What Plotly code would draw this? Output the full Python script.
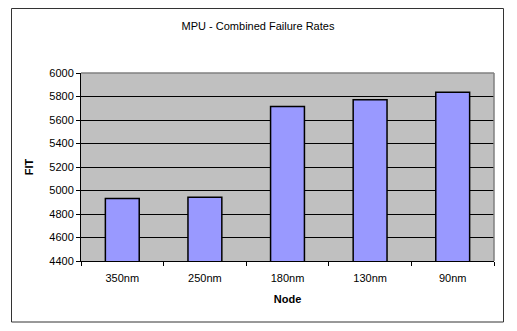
import plotly.graph_objects as go

categories = ["350nm", "250nm", "180nm", "130nm", "90nm"]
fit_values = [4932, 4942, 5715, 5772, 5837]
y_ticks = [4400, 4600, 4800, 5000, 5200, 5400, 5600, 5800, 6000]

# page body has an 8px margin, so work in figure coordinates offset by 8
OFF = 8
W, H = 517 - OFF, 331 - OFF
L, R, T, B = 81 - OFF, 23, 73 - OFF, 70
pw, ph = W - L - R, H - T - B

def px(x):
    return (x - OFF - L) / pw

def py(y):
    return (H - B - (y - OFF)) / ph

fig = go.Figure()
fig.add_trace(go.Bar(
    x=categories, y=fit_values,
    marker=dict(color="#9999FF", line=dict(color="black", width=1.5)),
    width=0.41,
))

fig.update_layout(
    width=W, height=H,
    margin=dict(l=L, r=R, t=T, b=B, autoexpand=False),
    paper_bgcolor="white",
    plot_bgcolor="#C0C0C0",
    showlegend=False,
    font=dict(family="Arial, Liberation Sans, sans-serif", size=11, color="black"),
    title=dict(text="MPU - Combined Failure Rates", x=px(258), xref="paper",
               xanchor="center", y=1 - (26 - OFF) / H, yanchor="middle",
               font=dict(size=11)),
    xaxis=dict(
        type="category", tickson="boundaries", ticks="outside", ticklen=4,
        tickcolor="black", showline=True, linecolor="black", linewidth=1,
        showgrid=False, mirror=False, automargin=False,
        ticklabelstandoff=7,
        title=dict(text="<b>Node</b>", font=dict(size=11), standoff=12),
        tickfont=dict(size=11),
    ),
    yaxis=dict(
        range=[4400, 6000], tickvals=y_ticks, ticks="outside", ticklen=4,
        tickcolor="black", showline=True, linecolor="black", linewidth=1,
        showgrid=True, gridcolor="black", gridwidth=1, zeroline=False,
        automargin=False,
        title=dict(text="<b>FIT</b>", font=dict(size=11), standoff=13),
        tickfont=dict(size=11),
    ),
    shapes=[
        dict(type="rect", xref="paper", yref="paper",
             x0=px(11.5), x1=px(503.5), y0=py(322), y1=py(8.5),
             line=dict(color="#333333", width=1), fillcolor="rgba(0,0,0,0)",
             layer="below"),
        dict(type="line", xref="paper", yref="paper", x0=0, x1=1, y0=1, y1=1,
             line=dict(color="#808080", width=1.5)),
        dict(type="line", xref="paper", yref="paper", x0=1, x1=1, y0=0, y1=1,
             line=dict(color="#808080", width=1.5)),
    ],
)

fig.write_html("out.html")
